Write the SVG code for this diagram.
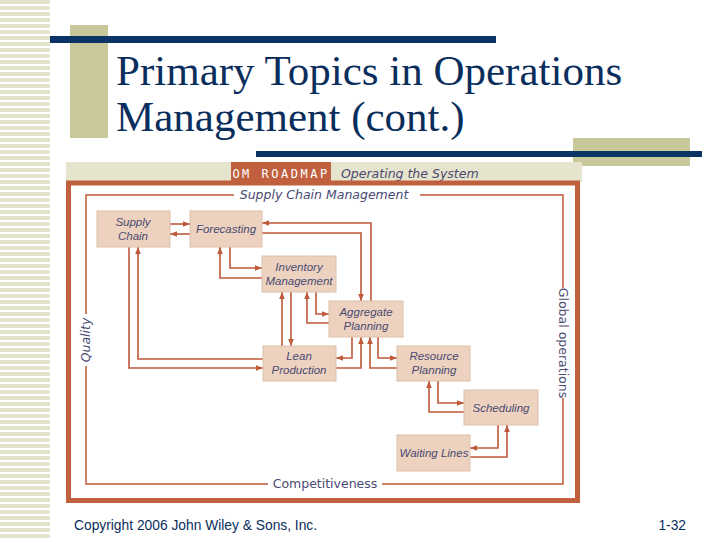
<svg xmlns="http://www.w3.org/2000/svg" width="720" height="540" viewBox="0 0 720 540">
<defs>
<pattern id="stripes" width="50" height="6" patternUnits="userSpaceOnUse"><rect width="50" height="4" fill="#e3e3cc"/></pattern>
<marker id="ah" viewBox="0 0 10 10" refX="10" refY="5" markerWidth="7" markerHeight="7" orient="auto" markerUnits="userSpaceOnUse"><path d="M0,1 L10,5 L0,9 Z" fill="#c0583a"/></marker>
<style>
.node rect{fill:#edd2bf;stroke:#dcc0a8;stroke-width:1}
.node text{font-family:"Liberation Sans",Arial,sans-serif;font-style:italic;font-size:11.5px;fill:#4a4a72;text-anchor:middle}
.conn path{fill:none;stroke:#c0583a;stroke-width:1.6;marker-end:url(#ah)}
.lbl{font-family:"DejaVu Sans",sans-serif;font-size:12.5px;fill:#4a4a72}
.frame{fill:none;stroke:#c0583a;stroke-width:1.5}
</style>
</defs>
<rect width="720" height="540" fill="#fff"/>
<rect x="0" y="0" width="50" height="540" fill="url(#stripes)"/>
<rect x="70" y="25" width="38" height="113" fill="#c8c89a"/>
<rect x="50" y="36" width="446" height="7" fill="#0a3366"/>
<text x="116" y="85" font-family="Liberation Serif,serif" font-size="43" fill="#0a2e5c">Primary Topics in Operations</text>
<text x="116" y="131" font-family="Liberation Serif,serif" font-size="43" fill="#0a2e5c">Management (cont.)</text>
<rect x="573" y="138" width="117" height="28" fill="#c8c89a"/>
<rect x="256" y="151" width="446" height="6" fill="#0a3366"/>

<rect x="66" y="162" width="516" height="20" fill="#e6e4cc"/>
<rect x="231" y="162" width="100" height="20" fill="#c0603e"/>
<text x="281" y="178" font-family="DejaVu Sans Mono,monospace" font-size="12" fill="#fff" text-anchor="middle" letter-spacing="2.5">OM ROADMAP</text>
<text x="341" y="178" class="lbl" font-style="italic">Operating the System</text>
<rect x="68.5" y="183" width="509" height="317.5" fill="#fff" stroke="#c0603e" stroke-width="5"/>

<g id="frame-labels">
<path class="frame" d="M420,195 H563 V288 M563,398 V484 H382 M268,484 H86 V366 M86,314 V195 H234"/>
<text x="324" y="199" class="lbl" font-style="italic" text-anchor="middle">Supply Chain Management</text>
<text x="325" y="488" class="lbl" text-anchor="middle">Competitiveness</text>
<text transform="translate(90,340) rotate(-90)" class="lbl" font-style="italic" text-anchor="middle">Quality</text>
<text transform="translate(559,343) rotate(90)" class="lbl" text-anchor="middle">Global operations</text>
</g>

<g class="conn" id="connectors">
<path d="M170,224 H190"/>
<path d="M190,234 H170"/>
<path d="M371,301 V223 H262"/>
<path d="M262,233 H361 V301"/>
<path d="M230,247 V268 H262"/>
<path d="M262,278 H220 V247"/>
<path d="M129,247 V368 H263"/>
<path d="M263,359 H138 V247"/>
<path d="M282,346 V292"/>
<path d="M291,292 V346"/>
<path d="M316,292 V314 H329"/>
<path d="M329,323 H307 V292"/>
<path d="M352,337 V358 H336"/>
<path d="M336,368 H361 V337"/>
<path d="M378,337 V358 H397"/>
<path d="M397,368 H370 V337"/>
<path d="M438,381 V403 H464"/>
<path d="M464,412 H429 V381"/>
<path d="M498,425 V448 H470"/>
<path d="M470,457 H507 V425"/>
</g>

<g class="node" id="supply-chain"><rect x="97" y="211" width="73" height="36"/><text x="133" y="226">Supply</text><text x="133" y="240">Chain</text></g>
<g class="node" id="forecasting"><rect x="190" y="211" width="72" height="36"/><text x="226" y="233">Forecasting</text></g>
<g class="node" id="inventory"><rect x="262" y="256" width="74" height="36"/><text x="299" y="271">Inventory</text><text x="299" y="285">Management</text></g>
<g class="node" id="aggregate"><rect x="329" y="301" width="74" height="36"/><text x="366" y="316">Aggregate</text><text x="366" y="330">Planning</text></g>
<g class="node" id="lean"><rect x="263" y="346" width="73" height="35"/><text x="299" y="360">Lean</text><text x="299" y="374">Production</text></g>
<g class="node" id="resource"><rect x="397" y="346" width="73" height="35"/><text x="434" y="360">Resource</text><text x="434" y="374">Planning</text></g>
<g class="node" id="scheduling"><rect x="464" y="390" width="74" height="35"/><text x="501" y="412">Scheduling</text></g>
<g class="node" id="waiting"><rect x="397" y="435" width="73" height="36"/><text x="434" y="457">Waiting Lines</text></g>

<text x="74" y="530" font-family="Liberation Sans,Arial,sans-serif" font-size="13.8" fill="#0a2e5c">Copyright 2006 John Wiley &amp; Sons, Inc.</text>
<text x="686" y="530" font-family="Liberation Sans,Arial,sans-serif" font-size="13.8" fill="#0a2e5c" text-anchor="end">1-32</text>
</svg>
